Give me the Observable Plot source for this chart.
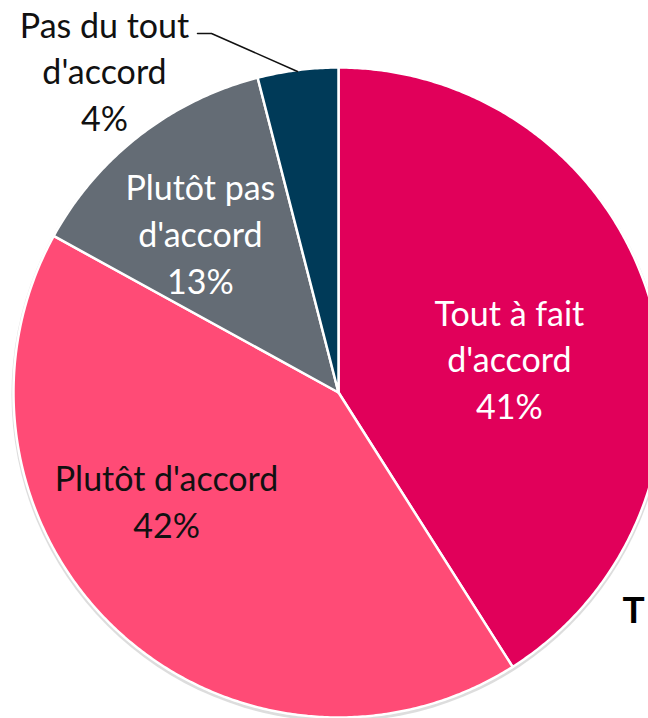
<!DOCTYPE html>
<html><head><meta charset="utf-8">
<script src="https://cdn.jsdelivr.net/npm/d3@7"></script>
<script src="https://cdn.jsdelivr.net/npm/@observablehq/plot@0.6"></script>
<style>body{margin:0;background:#fff}</style>
</head><body><div id="chart"></div>
<script>
const categories = ["Tout à fait d'accord", "Plutôt d'accord", "Plutôt pas d'accord", "Pas du tout d'accord"];
const values = [41, 42, 13, 4];
const colors = ["#E1005A", "#FF4B76", "#646C75", "#003A58"];
const labelText = ["Tout à fait\nd'accord\n41%", "Plutôt d'accord\n42%", "Plutôt pas\nd'accord\n13%", "Pas du tout\nd'accord\n4%"];
const labelColor = ["white", "#111", "white", "#111"];
// label anchor positions (unit-circle coords)
const labelPos = [[0.526, 0.108], [-0.529, -0.329], [-0.425, 0.495], [-0.72, 0.994]];

const W = 648, H = 718, R = 325, CX = 338, CY = 392;
const xDomain = [-CX / R, (W - CX) / R];
const yDomain = [-(H - CY) / R, CY / R];

const pie = d3.pie().sort(null).value(d => d)(values);
const slices = [];
pie.forEach((p, i) => {
  const n = Math.max(4, Math.ceil((p.endAngle - p.startAngle) * 120));
  slices.push({k: i, x: 0, y: 0});
  for (let j = 0; j <= n; j++) {
    const a = p.startAngle + (p.endAngle - p.startAngle) * j / n;
    slices.push({k: i, x: Math.sin(a), y: Math.cos(a)});
  }
  slices.push({k: i, x: 0, y: 0});
});
const labels = categories.map((c, i) => ({k: i, x: labelPos[i][0], y: labelPos[i][1], t: labelText[i], c: labelColor[i]}));
const leader = [
  {x: (197 - CX) / R, y: (CY - 33) / R},
  {x: (211 - CX) / R, y: (CY - 33) / R},
  {x: (297 - CX) / R, y: (CY - 71) / R}
];

const chart = Plot.plot({
  width: W, height: H,
  margin: 0,
  x: {domain: xDomain, axis: null},
  y: {domain: yDomain, axis: null},
  style: {fontFamily: "Lato, 'Open Sans', sans-serif", background: "white"},
  marks: [
    Plot.dot([{x: 0, y: 0}], {x: "x", y: "y", r: R + 2, fill: "#bbb", fillOpacity: 0.5, dy: 2, stroke: "none"}),
    Plot.line(slices, {x: "x", y: "y", z: "k", fill: d => colors[d.k], stroke: "white", strokeWidth: 2.5, strokeLinejoin: "round"}),
    Plot.line(leader, {x: "x", y: "y", stroke: "#111", strokeWidth: 1.5}),
    Plot.text(labels, {x: "x", y: "y", text: "t", fill: "c", fontSize: 34, lineHeight: 1.38}),
    Plot.text(["T"], {frameAnchor: "top-left", dx: 622, dy: 611, fontSize: 37, fontWeight: "bold", fill: "#000", textAnchor: "start", lineAnchor: "middle"})
  ]
});
document.getElementById("chart").appendChild(chart);
</script>
</body></html>
